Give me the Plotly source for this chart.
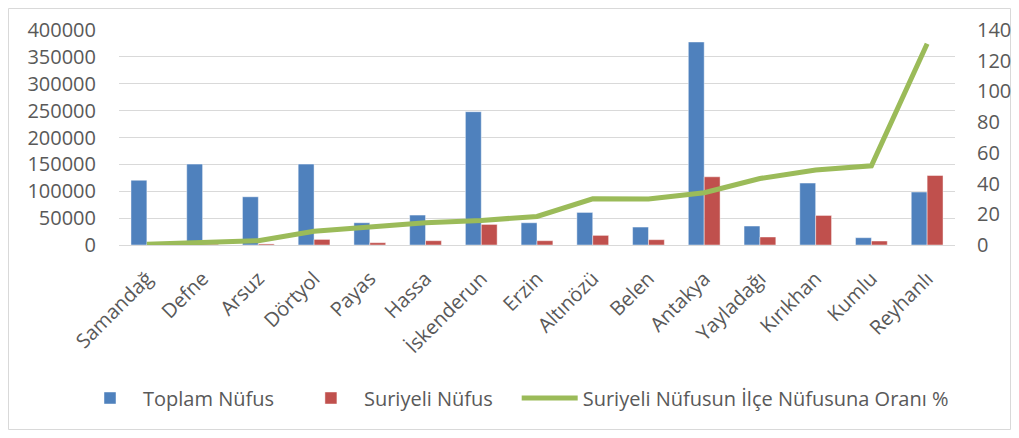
import plotly.graph_objects as go

districts = ["Samandağ", "Defne", "Arsuz", "Dörtyol", "Payas", "Hassa", "İskenderun", "Erzin",
             "Altınözü", "Belen", "Antakya", "Yayladağı", "Kırıkhan", "Kumlu", "Reyhanlı"]
toplam = [120500, 150500, 89700, 150500, 41400, 55700, 248000, 41400,
          60600, 33400, 377700, 35300, 115200, 13600, 98500]
suriyeli = [500, 1500, 2000, 10400, 4300, 8000, 38300, 8000,
            17900, 9900, 126900, 14900, 55000, 7400, 129300]
oran = [0.5, 1.8, 2.8, 9.0, 12.0, 14.5, 16.0, 18.6,
        30.1, 30.0, 34.0, 43.3, 48.8, 51.6, 131.0]

left_ticks = list(range(0, 400001, 50000))
right_ticks = list(range(0, 141, 20))

# page body has an 8px margin, so the figure is sized to fit inside the window
W, H = 1003, 422
ML, MR, MT, MB = 111, 56, 22, 185
GREY = "#595959"
FONT = "Open Sans"
PAD = "\u00a0\u00a0\u00a0\u2009"  # extra spacing between legend entries

fig = go.Figure()
fig.add_trace(go.Bar(x=districts, y=toplam, name="Toplam Nüfus" + PAD,
                     marker=dict(color="#4f81bd", line=dict(color="rgba(255,255,255,0.45)", width=1))))
fig.add_trace(go.Bar(x=districts, y=suriyeli, name="Suriyeli Nüfus" + PAD,
                     marker=dict(color="#c0504d", line=dict(color="rgba(255,255,255,0.45)", width=1))))
fig.add_trace(go.Scatter(x=districts, y=oran, name="Suriyeli Nüfusun İlçe Nüfusuna Oranı %",
                         mode="lines", line=dict(color="#9bbb59", width=5), yaxis="y2"))

pw = W - ML - MR
ph = H - MT - MB
fig.add_shape(type="rect", xref="paper", yref="paper", layer="below",
              x0=(0.5 - ML) / pw, x1=(W - 0.5 - ML) / pw,
              y0=(MT + ph - (H - 0.5)) / ph, y1=(MT + ph - 0.5) / ph,
              line=dict(color="#d9d9d9", width=1), fillcolor="rgba(0,0,0,0)")

fig.update_layout(
    width=W, height=H,
    margin=dict(l=ML, r=MR, t=MT, b=MB, autoexpand=False),
    paper_bgcolor="white", plot_bgcolor="white",
    barmode="group", bargap=0.43, bargroupgap=0,
    font=dict(family=FONT, size=20, color=GREY),
    xaxis=dict(type="category", tickangle=-45, showgrid=False, showline=False,
               ticks="outside", ticklen=13, tickcolor="rgba(0,0,0,0)",
               tickfont=dict(family=FONT, size=20, color=GREY)),
    yaxis=dict(range=[0, 400000], tickvals=left_ticks, tickformat="d",
               gridcolor="#d9d9d9", gridwidth=1.3, zeroline=True, zerolinecolor="#d9d9d9",
               zerolinewidth=1.3, showline=False,
               ticks="outside", ticklen=18, tickcolor="rgba(0,0,0,0)",
               tickfont=dict(family=FONT, size=20, color=GREY)),
    yaxis2=dict(range=[0, 140], tickvals=right_ticks, overlaying="y", side="right",
                showgrid=False, zeroline=False, showline=False,
                ticks="outside", ticklen=17, tickcolor="rgba(0,0,0,0)",
                tickfont=dict(family=FONT, size=20, color=GREY)),
    legend=dict(orientation="h", x=(69 - ML) / pw, xanchor="left",
                y=(MT + ph - 390) / ph, yanchor="middle",
                font=dict(family=FONT, size=20, color=GREY),
                itemwidth=56, tracegroupgap=0, bgcolor="rgba(0,0,0,0)"),
    showlegend=True,
)

fig.write_html("out.html")
